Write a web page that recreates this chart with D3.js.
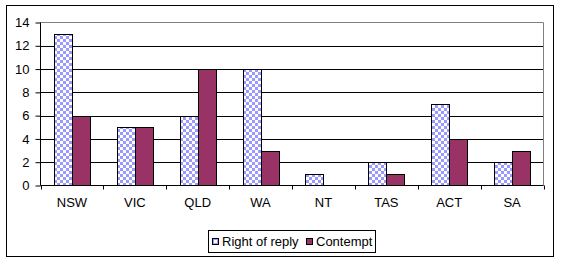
<!DOCTYPE html>
<html><head><meta charset="utf-8">
<script src="https://cdn.jsdelivr.net/npm/d3@7"></script>
<style>body{margin:0;background:#fff}svg{display:block}text{font-family:Arial,"Liberation Sans",sans-serif}</style>
</head><body><svg id="c" width="562" height="263"></svg>
<script>
const categories = ["NSW","VIC","QLD","WA","NT","TAS","ACT","SA"];
const rightOfReply = [13,5,6,10,1,2,7,2];
const contempt = [6,5,10,3,0,1,4,3];
const seriesNames = ["Right of reply","Contempt"];
const yTicks = [0,2,4,6,8,10,12,14];

const svg = d3.select("#c");
const m = {l:40.5, r:543.5, t:22.5, b:185.5};
const defs = svg.append("defs");
const pat = defs.append("pattern").attr("id","chk").attr("patternUnits","userSpaceOnUse")
  .attr("width",6).attr("height",6);
pat.append("rect").attr("width",6).attr("height",6).attr("fill","#fff");
pat.append("rect").attr("width",3).attr("height",3).attr("fill","#9999FF");
pat.append("rect").attr("x",3).attr("y",3).attr("width",3).attr("height",3).attr("fill","#9999FF");

// outer border
svg.append("rect").attr("x",6.5).attr("y",5.5).attr("width",547).attr("height",251)
  .attr("fill","#fff").attr("stroke","#000");

const x0 = d3.scaleBand().domain(categories).range([m.l,m.r]).paddingInner(0).paddingOuter(0);
const y = d3.scaleLinear().domain([0,14]).range([m.b,m.t]);
const barW = x0.bandwidth()/3.5;

// gridlines
svg.append("g").selectAll("line").data(yTicks.filter(d=>d>0 && d<14)).join("line")
  .attr("x1",m.l).attr("x2",m.r).attr("y1",d=>Math.round(y(d))+0.5).attr("y2",d=>Math.round(y(d))+0.5)
  .attr("stroke","#000");
// plot border (gray)
svg.append("path").attr("d",`M${m.l},${m.t}H${m.r}V${m.b}`).attr("fill","none").attr("stroke","#808080");

const data = categories.map((c,i)=>({c, v:[rightOfReply[i],contempt[i]]}));
const fills = ["url(#chk)","#993366"];
data.forEach(d=>{
  d.v.forEach((v,j)=>{
    if(v<=0) return;
    const cx = x0(d.c)+x0.bandwidth()/2;
    const xs = Math.round(cx - barW + j*barW)+0.5;
    const w = Math.round(barW);
    const yt = Math.round(y(v))+0.5;
    svg.append("rect").attr("x",xs).attr("y",yt).attr("width",w).attr("height",m.b-yt)
      .attr("fill",fills[j]).attr("stroke","#000");
  });
});

// axes
const yAxis = d3.axisLeft(y).tickValues(yTicks).tickSize(5).tickPadding(6);
const gy = svg.append("g").attr("transform",`translate(${m.l},0)`).call(yAxis);
gy.selectAll("text").attr("font-size","13px").attr("fill","#000");
gy.select(".domain").attr("d",`M0,${m.t}V${m.b}`).attr("stroke","#000");
gy.selectAll(".tick line").attr("stroke","#000");

const xAxis = d3.axisBottom(x0).tickSize(0).tickPadding(12);
const gx = svg.append("g").attr("transform",`translate(0,${m.b})`).call(xAxis);
gx.select(".domain").attr("d",`M${m.l},0H${m.r}`).attr("stroke","#000");
gx.selectAll("text").attr("font-size","13px").attr("fill","#000");
// boundary ticks
gx.append("g").selectAll("line").data(d3.range(categories.length+1)).join("line")
  .attr("x1",i=>Math.round(m.l+i*x0.bandwidth())+0.5).attr("x2",i=>Math.round(m.l+i*x0.bandwidth())+0.5)
  .attr("y1",0).attr("y2",4).attr("stroke","#000");

// legend
const lg = svg.append("g");
lg.append("rect").attr("x",208.5).attr("y",230.5).attr("width",167).attr("height",22)
  .attr("fill","#fff").attr("stroke","#000");
const items = [{x:212, tx:222},{x:306, tx:316}];
items.forEach((it,j)=>{
  lg.append("rect").attr("x",it.x+0.5).attr("y",238.5).attr("width",6).attr("height",6)
    .attr("fill", j===0?"#9999FF":"#993366").attr("stroke","#000");
  if(j===0) lg.append("rect").attr("x",it.x+2).attr("y",240).attr("width",3).attr("height",3).attr("fill","#fff");
  lg.append("text").attr("x",it.tx).attr("y",246).attr("font-size","13px").text(seriesNames[j]);
});
</script></body></html>
